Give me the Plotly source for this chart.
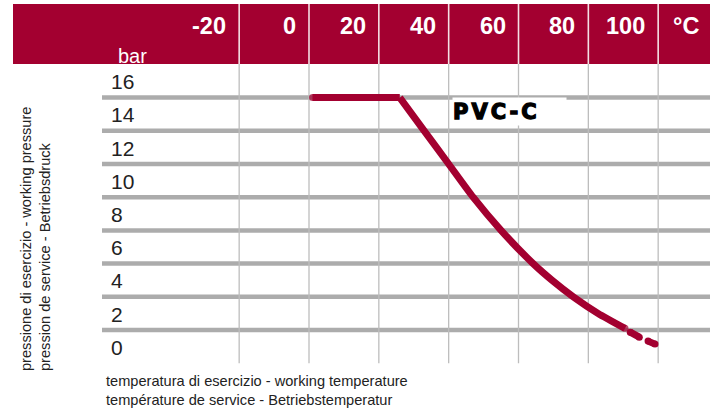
import plotly.graph_objects as go

# ---- data ----
temp_ticks = [-20, 0, 20, 40, 60, 80, 100]
temp_labels = ["-20", "0", "20", "40", "60", "80", "100"]
unit_label = "°C"
pressure_ticks = [0, 2, 4, 6, 8, 10, 12, 14, 16]
pressure_lines = [2, 4, 6, 8, 10, 12, 14, 16]

curve_temp = [1, 26, 33, 40, 47, 55, 64.2, 69.6, 75.7, 82.8, 90.5]
curve_press = [16, 16, 14, 12, 10, 8, 6, 5, 4, 3, 2.1]
tail_temp = [92.0, 94.6, None, 97.1, 99.1]
tail_press = [1.87, 1.57, None, 1.33, 1.15]

material = "PVC-C"
y_title = "pressione di esercizio - working pressure<br>pression de service - Betriebsdruck"
x_title = "temperatura di esercizio - working temperature<br>température de service - Betriebstemperatur"
y_unit = "bar"

# ---- layout geometry (pixels) ----
W, H = 720, 411
X0_PX, X_PER = 309.0, 3.4917       # pixel of 0 °C, pixels per °C
Y0_PX, Y_PER = 363.2, 16.6         # pixel of 0 bar, pixels per bar
HEAD_TOP, HEAD_BOT = 4, 64
LEFT_GRID, RIGHT_EDGE, HEAD_LEFT = 102, 710, 13

RED = "#a30030"
FONT = "Liberation Sans, Arial, sans-serif"


def xp(px):
    return px / W


def yp(py):
    return 1 - py / H


x_range = [(0 - X0_PX) / X_PER, (W - X0_PX) / X_PER]
y_range = [(Y0_PX - H) / Y_PER, Y0_PX / Y_PER]

fig = go.Figure()

# plateau (straight) and decline (smooth) parts of the same curve
fig.add_trace(go.Scatter(
    x=curve_temp[:2], y=curve_press[:2], mode="lines+markers",
    line=dict(color=RED, width=7),
    marker=dict(color=RED, size=[7, 0], line=dict(width=0)),
    hoverinfo="skip", showlegend=False))
n_dec = len(curve_temp) - 1
fig.add_trace(go.Scatter(
    x=curve_temp[1:], y=curve_press[1:], mode="lines+markers",
    line=dict(color=RED, width=7, shape="spline", smoothing=0.6),
    marker=dict(color=RED, size=[0] * (n_dec - 1) + [7], line=dict(width=0)),
    hoverinfo="skip", showlegend=False))
fig.add_trace(go.Scatter(
    x=tail_temp, y=tail_press, mode="lines+markers",
    line=dict(color=RED, width=7),
    marker=dict(color=RED, size=7, line=dict(width=0)),
    connectgaps=False, hoverinfo="skip", showlegend=False))

shapes = []
# header band
shapes.append(dict(type="rect", xref="paper", yref="paper",
                   x0=xp(HEAD_LEFT), x1=xp(RIGHT_EDGE), y0=yp(HEAD_BOT), y1=yp(HEAD_TOP),
                   fillcolor=RED, line=dict(width=0), layer="below"))
y_head_bar = (Y0_PX - HEAD_BOT) / Y_PER
# vertical grid lines in plot + white separators in header
for t in temp_ticks:
    shapes.append(dict(type="line", xref="x", yref="y", x0=t, x1=t, y0=0, y1=y_head_bar,
                       line=dict(color="#bdbdbd", width=1.3), layer="below"))
    shapes.append(dict(type="line", xref="x", yref="paper", x0=t, x1=t,
                       y0=yp(HEAD_BOT), y1=yp(HEAD_TOP),
                       line=dict(color="#f4dfe4", width=1.6), layer="below"))
# horizontal thick lines
for p in pressure_lines:
    shapes.append(dict(type="line", xref="paper", yref="y", x0=xp(LEFT_GRID), x1=xp(RIGHT_EDGE),
                       y0=p, y1=p, line=dict(color="#acacac", width=4.5), layer="below"))
fig.update_layout(shapes=shapes)

ann = []
# header tick labels (right aligned in their cells)
for t, lab in zip(temp_ticks, temp_labels):
    ann.append(dict(x=t, y=yp(26), xref="x", yref="paper", text="<b>%s</b>" % lab,
                    xanchor="right", yanchor="middle", xshift=-11, showarrow=False,
                    font=dict(family=FONT, size=23.5, color="white")))
ann.append(dict(x=xp(686), y=yp(26), xref="paper", yref="paper", text="<b>%s</b>" % unit_label,
                xanchor="center", yanchor="middle", showarrow=False,
                font=dict(family=FONT, size=23.5, color="white")))
ann.append(dict(x=xp(116), y=yp(56), xref="paper", yref="paper", text=y_unit,
                xanchor="left", yanchor="middle", showarrow=False,
                font=dict(family=FONT, size=20, color="white")))
# y tick labels above their lines
for p in pressure_ticks:
    ann.append(dict(x=xp(109), y=p, xref="paper", yref="y", text=str(p),
                    xanchor="left", yanchor="middle", yshift=16, showarrow=False,
                    font=dict(family=FONT, size=21, color="#222222")))
# material label
ann.append(dict(x=xp(452), y=yp(111.5), xref="paper", yref="paper",
                text="<span style='letter-spacing:3px;stroke:black;stroke-width:1.3px'><b>%s</b></span>" % material,
                xanchor="left", yanchor="middle",
                width=113, height=27, align="left", bgcolor="white", borderpad=0,
                showarrow=False,
                font=dict(family="DejaVu Sans, Liberation Sans, sans-serif", size=21, color="black")))
# axis titles
ann.append(dict(x=xp(104), y=yp(390), xref="paper", yref="paper", text=x_title,
                xanchor="left", yanchor="middle", align="left", showarrow=False,
                font=dict(family=FONT, size=14.6, color="#222222")))
ann.append(dict(x=xp(36), y=yp(239), xref="paper", yref="paper", text=y_title,
                xanchor="center", yanchor="middle", align="left", textangle=-90,
                showarrow=False,
                font=dict(family=FONT, size=14.6, color="#222222")))
fig.update_layout(annotations=ann)

fig.update_layout(
    width=W, height=H, margin=dict(l=0, r=0, t=0, b=0),
    paper_bgcolor="white", plot_bgcolor="white",
    xaxis=dict(range=x_range, domain=[0, 1], visible=False, fixedrange=True),
    yaxis=dict(range=y_range, domain=[0, 1], visible=False, fixedrange=True),
    showlegend=False,
)

fig.write_html("out.html", config={"displayModeBar": False, "staticPlot": True},
               post_script="document.body.style.margin='0';")
